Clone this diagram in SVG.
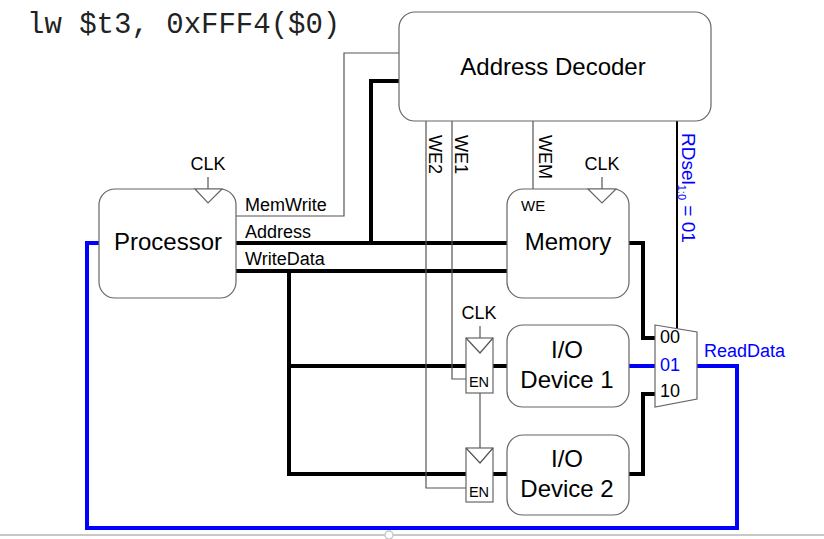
<svg xmlns="http://www.w3.org/2000/svg" width="824" height="539" viewBox="0 0 824 539">
<style>
.box{fill:#fff;stroke:#666;stroke-width:1.2}
.t{font-family:"Liberation Sans",Arial,sans-serif;fill:#000}
.big{font-size:24px}
.sm{font-size:18px}
.thin{fill:none;stroke:#555;stroke-width:1.2}
.thick{fill:none;stroke:#000;stroke-width:4}
.blue{fill:none;stroke:#0000ff;stroke-width:4}
.bt{fill:#0000ff}
.clk{fill:#fff;stroke:#666;stroke-width:1.2}
</style>
<rect width="824" height="539" fill="#fff"/>
<text x="27" y="33" style="font-family:'Liberation Mono','Courier New',monospace;font-size:29px;fill:#222">lw $t3, 0xFFF4($0)</text>

<g id="connectors">
  <polyline class="thin" points="236,216 344,216 344,53 399,53"/>
  <polyline class="thick" points="236,243 507,243"/>
  <polyline class="thick" points="371,243 371,81 399,81"/>
  <polyline class="thick" points="236,271 507,271"/>
  <polyline class="thick" points="289,271 289,474 466,474"/>
  <polyline class="thick" points="289,366 466,366"/>
  <line class="thick" x1="493" y1="366" x2="507" y2="366"/>
  <line class="thick" x1="493" y1="474" x2="507" y2="474"/>
  <polyline class="thin" points="426,121 426,488 466,488"/>
  <polyline class="thin" points="452,121 452,379 466,379"/>
  <line class="thin" x1="533" y1="121" x2="533" y2="189"/>
  <line class="thin" x1="480" y1="393" x2="480" y2="448"/>
  <line class="thin" x1="208" y1="177" x2="208" y2="189"/>
  <line class="thin" x1="602" y1="177" x2="602" y2="189"/>
  <line class="thin" x1="480" y1="326" x2="480" y2="338"/>
  <line x1="677" y1="121" x2="677" y2="329" stroke="#000" stroke-width="2"/>
  <polyline class="thick" points="629,243 643,243 643,338 655,338"/>
  <polyline class="thick" points="629,474 643,474 643,394 655,394"/>
  <line class="blue" x1="629" y1="366" x2="655" y2="366"/>
  <polyline class="blue" points="697,366 737,366 737,528 87,528 87,243 99,243"/>
</g>

<g id="address-decoder">
  <rect class="box" x="399" y="12" width="312" height="109" rx="16"/>
  <text class="t big" x="553" y="75" text-anchor="middle">Address Decoder</text>
</g>

<g id="processor">
  <rect class="box" x="99" y="189" width="137" height="109" rx="16"/>
  <polygon class="clk" points="195,189 208,203 222,189"/>
  <text class="t big" x="168" y="250" text-anchor="middle">Processor</text>
  <text class="t sm" x="208" y="170" text-anchor="middle">CLK</text>
</g>

<g id="memory">
  <rect class="box" x="507" y="189" width="122" height="109" rx="16"/>
  <polygon class="clk" points="588,189 602,203 616,189"/>
  <text class="t" x="521" y="211" style="font-size:15px">WE</text>
  <text class="t big" x="568" y="250" text-anchor="middle">Memory</text>
  <text class="t sm" x="602" y="170" text-anchor="middle">CLK</text>
</g>

<g id="register1">
  <rect class="clk" x="466" y="338" width="27" height="55"/>
  <polyline class="thin" points="466,338 480,353 493,338"/>
  <text class="t" x="479" y="387" text-anchor="middle" style="font-size:14.5px">EN</text>
  <text class="t sm" x="479" y="319" text-anchor="middle">CLK</text>
</g>

<g id="register2">
  <rect class="clk" x="466" y="448" width="27" height="54"/>
  <polyline class="thin" points="466,448 480,463 493,448"/>
  <text class="t" x="479" y="497" text-anchor="middle" style="font-size:14.5px">EN</text>
</g>

<g id="io-device-1">
  <rect class="box" x="507" y="325" width="122" height="82" rx="16"/>
  <text class="t big" x="567" y="358" text-anchor="middle">I/O</text>
  <text class="t big" x="567" y="388" text-anchor="middle">Device 1</text>
</g>

<g id="io-device-2">
  <rect class="box" x="507" y="435" width="122" height="80" rx="16"/>
  <text class="t big" x="567" y="467" text-anchor="middle">I/O</text>
  <text class="t big" x="567" y="497" text-anchor="middle">Device 2</text>
</g>

<g id="mux">
  <polygon class="box" points="655,325 697,332 697,399 655,407"/>
  <text class="t" x="660" y="343" style="font-size:18px">00</text>
  <text class="t bt" x="660" y="371" style="font-size:18px">01</text>
  <text class="t" x="660" y="397" style="font-size:18px">10</text>
</g>

<g id="labels">
  <text class="t sm" x="245" y="211">MemWrite</text>
  <text class="t sm" x="245" y="238">Address</text>
  <text class="t sm" x="245" y="265">WriteData</text>
  <text class="t sm" transform="translate(429,135) rotate(90)">WE2</text>
  <text class="t sm" transform="translate(455,135) rotate(90)">WE1</text>
  <text class="t sm" transform="translate(539,135) rotate(90)">WEM</text>
  <text class="t bt" transform="translate(682,133) rotate(90)" style="font-size:19px">RDsel<tspan dy="4" style="font-size:11px">1:0</tspan><tspan dy="-4"> = 01</tspan></text>
  <text class="t bt sm" x="704" y="357">ReadData</text>
</g>

<g id="frame">
  <line x1="0" y1="535" x2="824" y2="535" stroke="#c8c8c8" stroke-width="2"/>
  <circle cx="389" cy="535" r="4" fill="#fff" stroke="#c8c8c8" stroke-width="1.5"/>
</g>
</svg>
